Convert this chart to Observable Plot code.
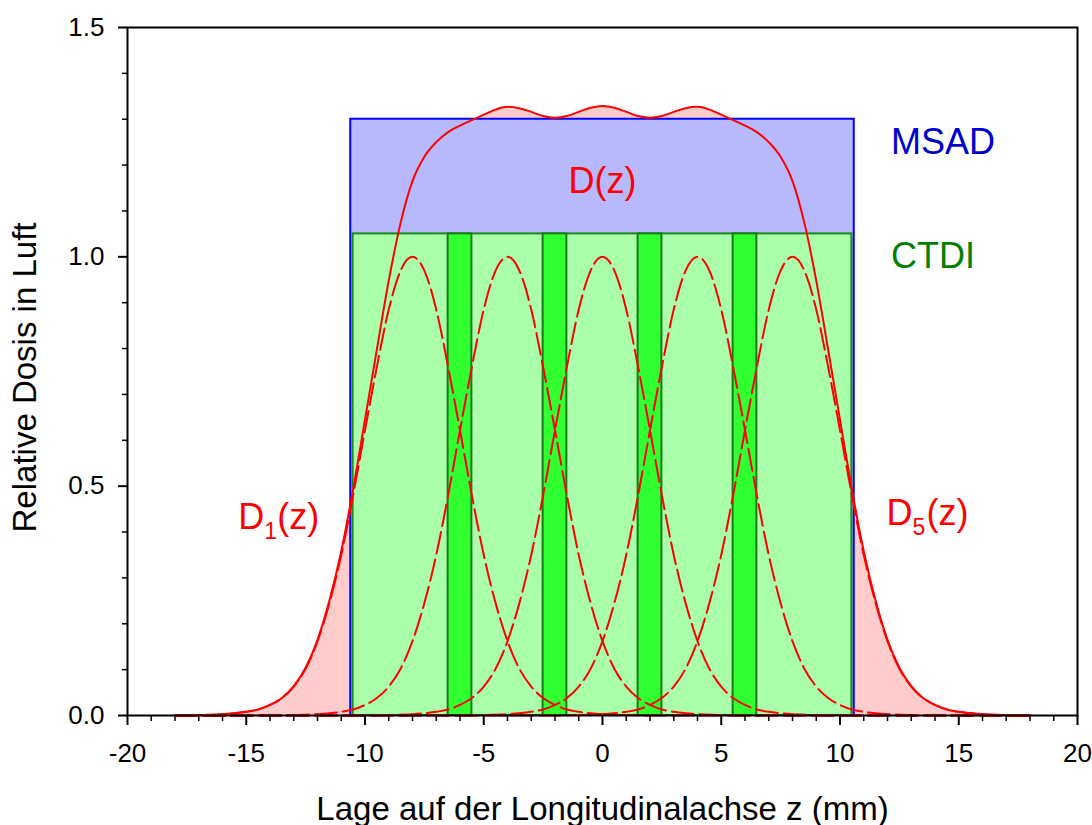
<!DOCTYPE html>
<html>
<head>
<meta charset="utf-8">
<script src="https://cdn.jsdelivr.net/npm/d3@7"></script>
<script src="https://cdn.jsdelivr.net/npm/@observablehq/plot@0.6"></script>
<style>
  html, body { margin: 0; padding: 0; background: #ffffff; }
  #chart { width: 1092px; height: 825px; }
</style>
</head>
<body>
<div id="chart"></div>
<script>
// ---- data ----
// summed dose profile D(z)
const sumZ = [-18,-17,-16,-15,-14.5,-14,-13.5,-13,-12.5,-12,-11.5,-11,-10.5,-10,-9.5,-9,-8.5,-8,-7.5,-7,-6.5,-6,-5.5,-5,-4.5,-4,-3.5,-3,-2.5,-2,-1.5,-1,-0.5,
              0,0.5,1,1.5,2,2.5,3,3.5,4,4.5,5,5.5,6,6.5,7,7.5,8,8.5,9,9.5,10,10.5,11,11.5,12,12.5,13,13.5,14,14.5,15,16,17,18];
const sumD = [0.000,0.001,0.003,0.008,0.013,0.023,0.038,0.064,0.104,0.165,0.250,0.358,0.493,0.645,0.798,0.948,1.074,1.165,1.218,1.250,1.272,1.286,1.298,1.310,1.321,1.327,1.324,1.316,1.307,1.303,1.307,1.316,1.325,
              1.329,1.325,1.316,1.307,1.303,1.307,1.316,1.324,1.327,1.321,1.310,1.298,1.286,1.272,1.250,1.218,1.165,1.074,0.948,0.798,0.645,0.493,0.358,0.250,0.165,0.104,0.064,0.038,0.023,0.013,0.008,0.003,0.001,0.000];

// single slice profile D_i(z) (offset from slice centre, relative dose)
const sliceOffset = [-10,-9,-8,-7.5,-7,-6.5,-6,-5.5,-5,-4.5,-4,-3.5,-3,-2.5,-2,-1.5,-1,-0.5,0,0.5,1,1.5,2,2.5,3,3.5,4,4.5,5,5.5,6,6.5,7,7.5,8,9,10];
const sliceDose   = [0.000,0.001,0.003,0.005,0.008,0.013,0.023,0.038,0.063,0.102,0.162,0.245,0.350,0.480,0.622,0.760,0.885,0.970,1.000,0.970,0.885,0.760,0.622,0.480,0.350,0.245,0.162,0.102,0.063,0.038,0.023,0.013,0.008,0.005,0.003,0.001,0.000];
const sliceCentres = [-8, -4, 0, 4, 8];
const zRange = [-18, 18];

// dose indices
const msadZ = [-10.6, 10.6];
const msadValue = 1.30;
const ctdiZ = [-10.5, 10.5];
const ctdiValue = 1.05;
// gaps between slices (dark green bars)
const gapStart = [-6.5, -2.5, 1.5, 5.5];
const gapEnd   = [-5.5, -1.5, 2.5, 6.5];

// axis ticks
const xMajor = [-20, -15, -10, -5, 0, 5, 10, 15, 20];
const xMinor = [-19,-18,-17,-16,-14,-13,-12,-11,-9,-8,-7,-6,-4,-3,-2,-1,1,2,3,4,6,7,8,9,11,12,13,14,16,17,18,19];
const yMajor = [0, 0.5, 1.0, 1.5];
const yMinor = [0.1,0.2,0.3,0.4,0.6,0.7,0.8,0.9,1.1,1.2,1.3,1.4];

const xTitle = "Lage auf der Longitudinalachse z (mm)";
const yTitle = "Relative Dosis in Luft";

// ---- tables built from the arrays ----
const sumRows = sumZ.map((z, i) => ({z, d: sumD[i]}));
const sliceRows = [];
sliceCentres.forEach(c => {
  const pts = sliceOffset.map((o, i) => ({z: c + o, d: sliceDose[i], k: c}));
  if (pts[0].z > zRange[0]) pts.unshift({z: zRange[0], d: 0, k: c});
  if (pts[pts.length - 1].z < zRange[1]) pts.push({z: zRange[1], d: 0, k: c});
  sliceRows.push(...pts);
});
const gapRows = gapStart.map((s, i) => ({x1: s, x2: gapEnd[i]}));

const FONT = "Arial, 'Liberation Sans', Helvetica, sans-serif";
const RED = "#ff0000";

const plot = Plot.plot({
  width: 1092,
  height: 825,
  marginLeft: 127,
  marginRight: 15,
  marginTop: 27,
  marginBottom: 110,
  style: {fontFamily: FONT, fontSize: "26px", background: "#ffffff", color: "#000000", overflow: "visible"},
  x: {domain: [-20, 20], label: null},
  y: {domain: [0, 1.5], label: null},
  marks: [
    // area under D(z)
    Plot.areaY(sumRows, {x: "z", y: "d", fill: "#ffcccc", curve: "monotone-x"}),
    // MSAD
    Plot.rect([{x1: msadZ[0], x2: msadZ[1], y: msadValue}], {x1: "x1", x2: "x2", y1: 0, y2: "y", fill: "#b8b8ff", stroke: "#0000ff", strokeWidth: 2}),
    // CTDI
    Plot.rect([{x1: ctdiZ[0], x2: ctdiZ[1], y: ctdiValue}], {x1: "x1", x2: "x2", y1: 0, y2: "y", fill: "#aaffaa", stroke: "#1a8a1a", strokeWidth: 2}),
    // gaps
    Plot.rect(gapRows, {x1: "x1", x2: "x2", y1: 0, y2: ctdiValue, fill: "#30ff30", stroke: "#1a7a1a", strokeWidth: 2}),
    // single-slice profiles
    Plot.line(sliceRows, {x: "z", y: "d", z: "k", stroke: RED, strokeWidth: 2, strokeDasharray: "22,6", curve: "monotone-x"}),
    // D(z)
    Plot.line(sumRows, {x: "z", y: "d", stroke: RED, strokeWidth: 2, curve: "monotone-x"}),
    // labels
    Plot.text(["MSAD"], {x: 12.15, y: 1.25, textAnchor: "start", lineAnchor: "middle", fill: "#0000cc", fontSize: 36}),
    Plot.text(["CTDI"], {x: 12.15, y: 1.0, textAnchor: "start", lineAnchor: "middle", fill: "#008000", fontSize: 36}),
    Plot.text(["D(z)"], {x: 0, y: 1.165, textAnchor: "middle", lineAnchor: "middle", fill: RED, fontSize: 36}),
    Plot.text(["D"], {x: -15.34, y: 0.432, textAnchor: "start", lineAnchor: "middle", fill: RED, fontSize: 36}),
    Plot.text(["1"], {x: -15.34, y: 0.432, dx: 26, dy: 14, textAnchor: "start", lineAnchor: "middle", fill: RED, fontSize: 23}),
    Plot.text(["(z)"], {x: -15.34, y: 0.432, dx: 39, textAnchor: "start", lineAnchor: "middle", fill: RED, fontSize: 36}),
    Plot.text(["D"], {x: 11.96, y: 0.441, textAnchor: "start", lineAnchor: "middle", fill: RED, fontSize: 36}),
    Plot.text(["5"], {x: 11.96, y: 0.441, dx: 26, dy: 14, textAnchor: "start", lineAnchor: "middle", fill: RED, fontSize: 23}),
    Plot.text(["(z)"], {x: 11.96, y: 0.441, dx: 40, textAnchor: "start", lineAnchor: "middle", fill: RED, fontSize: 36}),
    // axes
    Plot.axisX(xMinor, {anchor: "bottom", tickSize: 6, strokeWidth: 1.5, fill: "none", label: null}),
    Plot.axisX(xMajor, {anchor: "bottom", tickSize: 10, tickPadding: 18, strokeWidth: 2, fontSize: 26, tickFormat: d => String(d), label: null}),
    Plot.axisY(yMinor, {anchor: "left", tickSize: 5, strokeWidth: 1.5, fill: "none", label: null}),
    Plot.axisY(yMajor, {anchor: "left", tickSize: 9, tickPadding: 14, strokeWidth: 2, fontSize: 26, tickFormat: d3.format(".1f"), label: null}),
    Plot.frame({stroke: "#000000", strokeWidth: 2}),
    // axis titles
    Plot.text([yTitle], {frameAnchor: "left", dx: -102, dy: 6, rotate: -90, textAnchor: "middle", lineAnchor: "middle", fontSize: 33, fill: "#000000"}),
    Plot.text([xTitle], {frameAnchor: "bottom", dy: 94, textAnchor: "middle", lineAnchor: "middle", fontSize: 33, fill: "#000000"})
  ]
});
document.getElementById("chart").appendChild(plot);
</script>
</body>
</html>
